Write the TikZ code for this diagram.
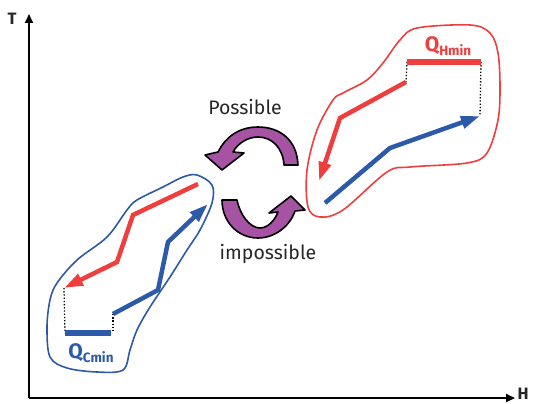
\documentclass[tikz,border=0pt]{standalone}
\usepackage{fontspec}
\setmainfont{Fira Sans}
\usetikzlibrary{arrows.meta}

\definecolor{hotred}{HTML}{EE3E3E}
\definecolor{coldblue}{HTML}{2C5AA8}
\definecolor{swap}{HTML}{A653A3}

\tikzset{
  axis/.style={line width=2.2pt, -{Triangle[length=9pt,width=8pt]}},
  stream/.style={line width=4.5pt, line cap=butt, line join=miter},
  hotstream/.style={stream, draw=hotred},
  coldstream/.style={stream, draw=coldblue},
  tipend/.style={-{Triangle[length=19pt,width=12pt]}},
  bar/.style={line width=5.5pt, line cap=butt},
  guide/.style={line width=1.3pt, dash pattern=on 1.3pt off 1.9pt, draw=black},
  hull/.style={line width=1.6pt, line join=round},
  turn/.style={fill=swap, draw=black, line width=1.6pt, line join=round},
  lbl/.style={font=\fontsize{19.5}{22}\selectfont, text=black!85},
  axlbl/.style={font=\fontsize{16.5}{19}\selectfont\bfseries, text=black!85, inner sep=0pt},
}

\begin{document}
\begin{tikzpicture}[x=1pt,y=-1pt]
\useasboundingbox (0,0) rectangle (533,404);

% axes
\coordinate (origin) at (29,398);
\coordinate (ttop) at (29,14);
\coordinate (hend) at (515,398);
\draw[axis] (origin) -- (ttop);
\draw[axis] (origin) -- (hend);
\node[axlbl] (T) at (12,19) {T};
\node[axlbl] (H) at (523,394) {H};

% hot-end envelope
\draw[hull, hotred] plot[smooth cycle, tension=0.55] coordinates {
  (417,28) (470,25) (490,33) (498,53) (500,87) (498,120) (487,153)
  (467,163) (410,167) (387,172) (343,210) (320,217) (308,207)
  (307,170) (317,130) (333,100) (343,93) (367,80) (383,63) (400,40)};

% cold-end envelope
\draw[hull, coldblue] plot[smooth cycle, tension=0.55] coordinates {
  (183,177) (197,175) (212,185) (212,203) (200,230) (187,250) (170,277)
  (150,307) (137,330) (130,350) (123,370) (97,372) (67,368) (50,357)
  (47,327) (50,300) (57,283) (77,260) (107,237) (127,210) (137,200) (163,187)};

% hot end: Q_Hmin bar, guides and streams
\coordinate (hbarL) at (407,62);
\coordinate (hbarR) at (481,62);
\coordinate (hhot0) at (406,82);
\coordinate (hhot1) at (340,118);
\coordinate (hhot2) at (319,181);
\coordinate (hcold0) at (325,203);
\coordinate (hcold1) at (390,148);
\coordinate (hcold2) at (480,116);
\draw[guide] (hbarL) -- (hhot0);
\draw[guide] (hbarR) -- (hcold2);
\draw[bar, hotred] (hbarL) -- (hbarR);
\draw[hotstream, tipend] (hhot0) -- (hhot1) -- (hhot2);
\draw[coldstream, tipend] (hcold0) -- (hcold1) -- (hcold2);
\node[text=hotred, inner sep=0pt] (qh) at (448,46)
  {\fontsize{21}{22}\selectfont\bfseries Q\raisebox{-4pt}{\fontsize{13.5}{14}\selectfont Hmin}};

% cold end: Q_Cmin bar, guides and streams
\coordinate (cbarL) at (65,333);
\coordinate (cbarR) at (111,333);
\coordinate (cbarRg) at (113,333);
\coordinate (chot0) at (198,184);
\coordinate (chot1) at (133,215);
\coordinate (chot2) at (117,262);
\coordinate (chot3) at (64,288);
\coordinate (ccold0) at (113,314);
\coordinate (ccold1) at (158,290);
\coordinate (ccold2) at (168,242);
\coordinate (ccold3) at (208,204);
\draw[guide] (chot3) -- (cbarL);
\draw[guide] (ccold0) -- (cbarRg);
\draw[bar, coldblue] (cbarL) -- (cbarR);
\draw[hotstream, tipend] (chot0) -- (chot1) -- (chot2) -- (chot3);
\draw[coldstream, tipend] (ccold0) -- (ccold1) -- (ccold2) -- (ccold3);
\node[text=coldblue, inner sep=0pt] (qc) at (91,353)
  {\fontsize{21}{22}\selectfont\bfseries Q\raisebox{-4pt}{\fontsize{13.5}{14}\selectfont Cmin}};

% curved exchange arrows
\draw[turn] (298,165) .. controls (297,140) and (280,127) .. (258,127)
  .. controls (238,127) and (225,138) .. (218,152)
  -- (205,155) -- (222,170) -- (244,153) -- (233,152)
  .. controls (238,143) and (248,137) .. (258,137)
  .. controls (272,137) and (283,148) .. (284,165) -- cycle;
\draw[turn] (222,200) -- (237,200)
  .. controls (240,215) and (250,228) .. (260,228)
  .. controls (268,228) and (275,220) .. (278,212)
  -- (269,213) -- (291,196) -- (305,210) -- (295,211)
  .. controls (290,226) and (275,238) .. (258,238)
  .. controls (238,238) and (222,222) .. (222,200) -- cycle;

\node[lbl] (poss) at (245,107) {Possible};
\node[lbl] (imposs) at (268,254) {impossible};
\end{tikzpicture}
\end{document}
